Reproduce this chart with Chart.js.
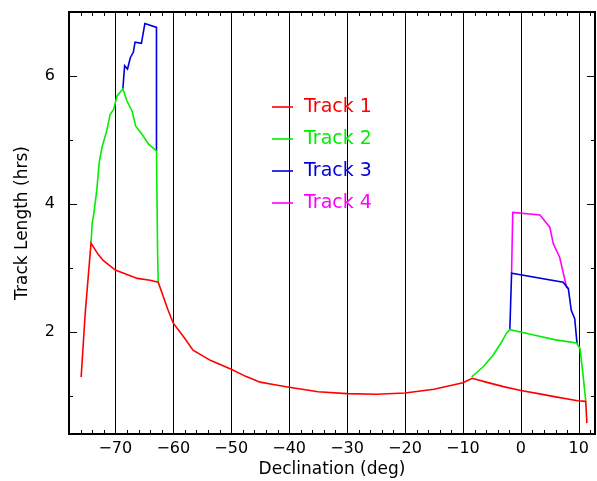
<!DOCTYPE html>
<html>
<head>
<meta charset="utf-8">
<script src="https://cdn.jsdelivr.net/npm/chart.js@4/dist/chart.umd.min.js"></script>
<style>
	html, body { margin: 0; padding: 0; background: #fff; }
</style>
</head>
<body>
<canvas id="chart" width="597" height="481"></canvas>
<script>
(() => {
	'use strict'

	// Track 1 (red)
	const track1Dec = [-75.9, -75.2, -74.2, -73.0, -72.1, -70.0, -68.0, -66.2, -64.0, -62.6, -61.0, -60.0, -58.0, -56.6, -53.6, -50.0, -47.5, -45, -42.5, -40, -35, -30, -25, -20, -15, -10, -8.4, -6, -3, 0, 3, 6, 9.8, 11.2, 11.4];
	const track1Hrs = [1.30, 2.30, 3.39, 3.22, 3.12, 2.97, 2.90, 2.84, 2.81, 2.78, 2.37, 2.14, 1.90, 1.72, 1.56, 1.42, 1.31, 1.22, 1.18, 1.14, 1.07, 1.04, 1.03, 1.05, 1.11, 1.21, 1.28, 1.22, 1.15, 1.09, 1.04, 0.99, 0.93, 0.92, 0.58];

	// Track 2 (green), two pieces
	const track2LeftDec = [-74.2, -74.0, -73.7, -73.2, -72.8, -72.3, -71.5, -70.9, -70.3, -69.7, -68.7, -68.0, -67.1, -66.5, -65.4, -64.3, -62.9, -62.7, -62.6];
	const track2LeftHrs = [3.39, 3.70, 3.86, 4.22, 4.64, 4.89, 5.14, 5.40, 5.48, 5.69, 5.80, 5.61, 5.45, 5.22, 5.09, 4.94, 4.83, 3.20, 2.78];
	const track2RightDec = [-8.5, -6.5, -4.8, -3.3, -2.5, -1.9, 0.1, 3, 6, 9.6, 10.2, 10.7, 11.2];
	const track2RightHrs = [1.30, 1.46, 1.64, 1.85, 1.98, 2.04, 2.00, 1.94, 1.88, 1.83, 1.75, 1.36, 0.93];

	// Track 3 (blue), two pieces
	const track3LeftDec = [-68.7, -68.4, -67.9, -67.4, -66.9, -66.6, -65.5, -64.9, -62.9, -62.9];
	const track3LeftHrs = [5.80, 6.16, 6.11, 6.29, 6.37, 6.53, 6.51, 6.82, 6.76, 4.83];
	const track3RightDec = [-1.9, -1.6, 7.3, 8.2, 8.7, 9.3, 9.7];
	const track3RightHrs = [2.04, 2.92, 2.78, 2.68, 2.34, 2.21, 1.82];

	// Track 4 (magenta)
	const track4Dec = [-1.6, -1.4, 3.3, 5.0, 5.6, 6.7, 7.9, 8.2];
	const track4Hrs = [2.92, 3.87, 3.83, 3.64, 3.38, 3.17, 2.70, 2.68];

	const xTickValues = [-70, -60, -50, -40, -30, -20, -10, 0, 10];
	const yTickValues = [2, 4, 6];
	const legendLabels = ['Track 1', 'Track 2', 'Track 3', 'Track 4'];
	const trackColors = ['#ff0000', '#00ee00', '#0000dd', '#ff00ff'];

	function toPoints(xs, ys) {
		return xs.map((v, i) => ({ x: v, y: ys[i] }));
	}

	function fmt(v) {
		return v < 0 ? '\u2212' + Math.abs(v) : String(v);
	}

	function makeSet(xs, ys, color) {
		return {
			data: toPoints(xs, ys),
			borderColor: color,
			borderWidth: 1.6,
			pointRadius: 0,
			tension: 0,
			fill: false,
		};
	}

	const datasets = [
		makeSet(track3LeftDec, track3LeftHrs, trackColors[2]),
		makeSet(track4Dec, track4Hrs, trackColors[3]),
		makeSet(track3RightDec, track3RightHrs, trackColors[2]),
		makeSet(track2LeftDec, track2LeftHrs, trackColors[1]),
		makeSet(track2RightDec, track2RightHrs, trackColors[1]),
		makeSet(track1Dec, track1Hrs, trackColors[0]),
	];
	// draw red last so it sits on top
	datasets.forEach((d, i) => { d.order = datasets.length - i; });

	// Frame, grid lines, inward ticks and legend
	const framePlugin = {
		id: 'frame',
		beforeDatasetsDraw(chart) {
			const { ctx, chartArea: a, scales: { x } } = chart;
			ctx.save();
			ctx.strokeStyle = '#000';
			ctx.lineWidth = 1;
			xTickValues.forEach(v => {
				const px = Math.round(x.getPixelForValue(v)) + 0.5;
				ctx.beginPath();
				ctx.moveTo(px, a.top);
				ctx.lineTo(px, a.bottom);
				ctx.stroke();
			});
			ctx.restore();
		},
		afterDatasetsDraw(chart) {
			const { ctx, chartArea: a, scales: { x, y } } = chart;
			ctx.save();
			ctx.strokeStyle = '#000';
			ctx.lineWidth = 1;
			ctx.beginPath();
			for (let v = -76; v <= 12; v += 2) {
				const px = Math.round(x.getPixelForValue(v)) + 0.5;
				const len = v % 10 === 0 ? 8 : 4;
				ctx.moveTo(px, a.bottom); ctx.lineTo(px, a.bottom - len);
				ctx.moveTo(px, a.top); ctx.lineTo(px, a.top + len);
			}
			for (let v = 1; v <= 6; v++) {
				const py = Math.round(y.getPixelForValue(v)) + 0.5;
				const len = v % 2 === 0 ? 8 : 4;
				ctx.moveTo(a.left, py); ctx.lineTo(a.left + len, py);
				ctx.moveTo(a.right, py); ctx.lineTo(a.right - len, py);
			}
			ctx.stroke();
			ctx.lineWidth = 2;
			ctx.strokeRect(a.left, a.top, a.right - a.left, a.bottom - a.top);
			ctx.restore();
		},
		afterDraw(chart) {
			const ctx = chart.ctx;
			ctx.save();
			ctx.font = '19px "DejaVu Sans"';
			ctx.textBaseline = 'middle';
			legendLabels.forEach((label, i) => {
				const yy = 107 + i * 32;
				ctx.strokeStyle = trackColors[i];
				ctx.lineWidth = 1.6;
				ctx.beginPath();
				ctx.moveTo(272, yy);
				ctx.lineTo(293, yy);
				ctx.stroke();
				ctx.fillStyle = trackColors[i];
				ctx.fillText(label, 304, yy);
			});
			ctx.restore();
		}
	};

	const config = {
		type: 'line',
		data: { datasets },
		options: {
			responsive: false,
			animation: false,
			layout: { padding: { top: 12, right: 2, left: 0, bottom: 0 } },
			plugins: {
				legend: { display: false },
				tooltip: { enabled: false },
			},
			scales: {
				x: {
					type: 'linear',
					min: -78,
					max: 12.8,
					afterBuildTicks: s => { s.ticks = xTickValues.map(v => ({ value: v })); },
					afterFit: s => { s.height = 47; s.paddingLeft = 0; s.paddingRight = 0; },
					grid: { display: false, drawTicks: false },
					border: { display: false },
					ticks: {
						color: '#000',
						font: { family: 'DejaVu Sans', size: 16 },
						padding: 5,
						maxRotation: 0,
						autoSkip: false,
						callback: v => fmt(v),
					},
					title: {
						display: true,
						text: 'Declination (deg)',
						color: '#000',
						font: { family: 'DejaVu Sans', size: 17 },
						padding: { top: 0, bottom: 1 },
					},
				},
				y: {
					type: 'linear',
					min: 0.41,
					max: 7,
					afterBuildTicks: s => { s.ticks = yTickValues.map(v => ({ value: v })); },
					afterFit: s => { s.width = 69; s.paddingTop = 0; s.paddingBottom = 0; },
					grid: { display: false, drawTicks: false },
					border: { display: false },
					ticks: {
						color: '#000',
						font: { family: 'DejaVu Sans', size: 16 },
						padding: 14,
						callback: v => fmt(v),
					},
					title: {
						display: true,
						text: 'Track Length (hrs)',
						color: '#000',
						font: { family: 'DejaVu Sans', size: 17 },
						padding: { top: 12, bottom: 0 },
					},
				},
			},
		},
		plugins: [framePlugin],
	};

	new Chart(document.getElementById('chart'), config);
})()
</script>
</body>
</html>
